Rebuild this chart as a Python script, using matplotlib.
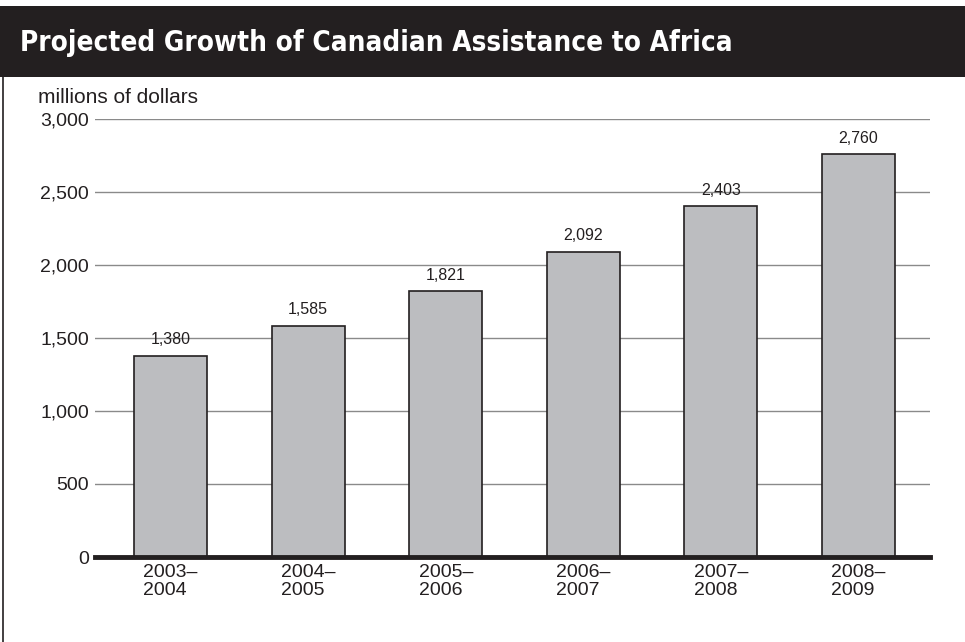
import matplotlib.pyplot as plt
from matplotlib.patches import Rectangle
from matplotlib.lines import Line2D

# data
years = ['2003–\n2004', '2004–\n2005', '2005–\n2006', '2006–\n2007', '2007–\n2008', '2008–\n2009']
values = [1380, 1585, 1821, 2092, 2403, 2760]
yticks = [0, 500, 1000, 1500, 2000, 2500, 3000]

plt.rcParams['font.family'] = ['Liberation Sans', 'DejaVu Sans']

fig = plt.figure(figsize=(9.65, 6.42), dpi=100)

# title band
fig.patches.append(Rectangle((0, 1 - 77/642), 1, 71/642, transform=fig.transFigure,
                             facecolor='#231f20', edgecolor='none'))
fig.text(20/965, 1 - 43/642, 'Projected Growth of Canadian Assistance to Africa',
         color='white', fontsize=20, fontweight='bold', fontstretch='condensed',
         family=['DejaVu Sans'], va='center', ha='left')
# left border
fig.lines.append(Line2D([3/965, 3/965], [0, 1 - 77/642], transform=fig.transFigure,
                        color='#231f20', lw=1.2))

fig.text(38/965, 1 - 103/642, 'millions of dollars', fontsize=15, color='#231f20',
         va='baseline', ha='left')

ax = fig.add_axes([95/965, 1 - 557/642, 835/965, 438/642])
x = range(len(values))
ax.bar(x, values, width=0.53, color='#bcbdc0', edgecolor='#231f20', linewidth=1.2, zorder=3)
for i, v in zip(x, values):
    ax.annotate(f'{v:,}', (i, v), xytext=(0, 6), textcoords='offset points',
                ha='center', va='bottom', fontsize=11.5, color='#231f20')

ax.set_xlim(-0.55, 5.52)
ax.set_ylim(0, 3000)
ax.set_yticks(yticks)
ax.set_yticklabels([f'{t:,}' for t in yticks], fontsize=14, color='#231f20')
ax.set_xticks(list(x))
ax.set_xticklabels(years, fontsize=14, color='#231f20', multialignment='left',
                   linespacing=1.05)
ax.tick_params(axis='both', length=0)
ax.tick_params(axis='y', pad=4.5)
ax.tick_params(axis='x', pad=5)
ax.grid(axis='y', color='#8a8a8a', lw=1, zorder=0)
for s in ['top', 'right', 'left']:
    ax.spines[s].set_visible(False)
ax.spines['bottom'].set_linewidth(3.5)
ax.spines['bottom'].set_color('#231f20')
ax.spines['bottom'].set_zorder(4)

fig.savefig('out.png', dpi=100)
